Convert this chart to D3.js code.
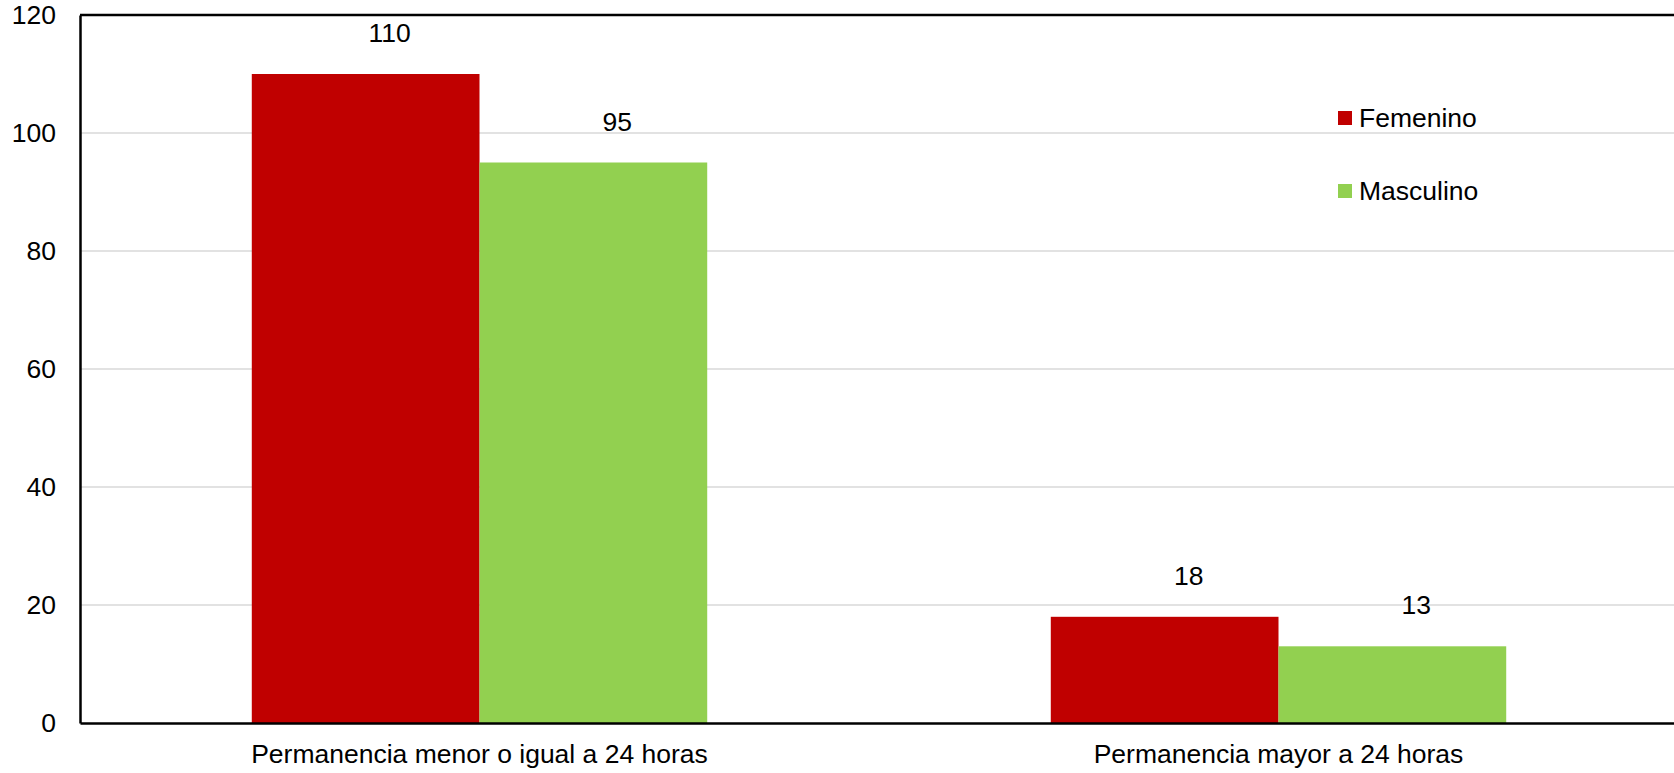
<meta charset="utf-8">
<script src="https://cdn.jsdelivr.net/npm/d3@7/dist/d3.min.js"></script>
<style>
  body { margin: 0; background: #fff; }
  text { font-family: "Liberation Sans", Arial, sans-serif; fill: #000; }
</style>
<div id="chart"></div>
<script>
var categories = ["Permanencia menor o igual a 24 horas", "Permanencia mayor a 24 horas"];
var seriesNames = ["Femenino", "Masculino"];
var femenino = [110, 18];
var masculino = [95, 13];
var yTicks = [0, 20, 40, 60, 80, 100, 120];
var colors = ["#c00000", "#92d050"];

var W = 1674, H = 773;
var fs = 26.5;
var margin = {top: 15, right: -4, bottom: 50, left: 80},
    width = W - margin.left - margin.right,
    height = H - margin.top - margin.bottom;

var svg = d3.select("#chart").append("svg")
    .attr("width", W).attr("height", H)
  .append("g")
    .attr("transform", "translate(" + margin.left + "," + margin.top + ")");

var rows = categories.map(function(c, i) {
  return {cat: c, values: [femenino[i], masculino[i]]};
});

var x = d3.scaleBand().domain(categories).range([0, width]).paddingInner(0.43).paddingOuter(0.215);
var xs = d3.scaleBand().domain(seriesNames).range([0, x.bandwidth()]);
var y = d3.scaleLinear().domain([0, 120]).range([height, 0]);

// gridlines
svg.selectAll(".grid").data(yTicks.filter(function(t) { return t > 0 && t < 120; }))
  .enter().append("line")
    .attr("x1", 0).attr("x2", width)
    .attr("y1", function(d) { return y(d); }).attr("y2", function(d) { return y(d); })
    .attr("stroke", "#d9d9d9").attr("stroke-width", 1.5);

// bars
var g = svg.selectAll(".grp").data(rows).enter().append("g")
    .attr("transform", function(d) { return "translate(" + x(d.cat) + ",0)"; });

g.selectAll("rect").data(function(d) { return d.values; }).enter().append("rect")
    .attr("x", function(d, i) { return xs(seriesNames[i]); })
    .attr("y", function(d) { return y(d); })
    .attr("width", xs.bandwidth())
    .attr("height", function(d) { return height - y(d); })
    .attr("fill", function(d, i) { return colors[i]; });

g.selectAll(".lbl").data(function(d) { return d.values; }).enter().append("text")
    .attr("x", function(d, i) { return xs(seriesNames[i]) + xs.bandwidth() / 2 + 24; })
    .attr("y", function(d) { return y(d) - 32; })
    .attr("text-anchor", "middle")
    .attr("font-size", fs)
    .text(function(d) { return d; });

// y axis
svg.append("g")
    .call(d3.axisLeft(y).tickValues(yTicks).tickSize(0).tickPadding(24))
    .call(function(a) { a.select(".domain").attr("stroke", "#000").attr("stroke-width", 2.5); })
    .selectAll("text").attr("font-size", fs).attr("font-family", "Liberation Sans, Arial, sans-serif");

// x axis
svg.append("g")
    .attr("transform", "translate(0," + height + ")")
    .call(d3.axisBottom(x).tickSize(0).tickPadding(21))
    .call(function(a) { a.select(".domain").attr("stroke", "#000").attr("stroke-width", 2.5); })
    .selectAll("text").attr("font-size", fs).attr("font-family", "Liberation Sans, Arial, sans-serif");

// top frame line
svg.append("line")
    .attr("x1", 0).attr("x2", width).attr("y1", y(120)).attr("y2", y(120))
    .attr("stroke", "#000").attr("stroke-width", 2.5);

// legend
var leg = svg.append("g").attr("transform", "translate(" + (1338 - margin.left) + "," + (111 - margin.top) + ")");
seriesNames.forEach(function(s, i) {
  var r = leg.append("g").attr("transform", "translate(0," + i * 73 + ")");
  r.append("rect").attr("width", 14).attr("height", 14).attr("fill", colors[i]);
  r.append("text").attr("x", 21).attr("y", 16).attr("font-size", fs).text(s);
});
</script>
